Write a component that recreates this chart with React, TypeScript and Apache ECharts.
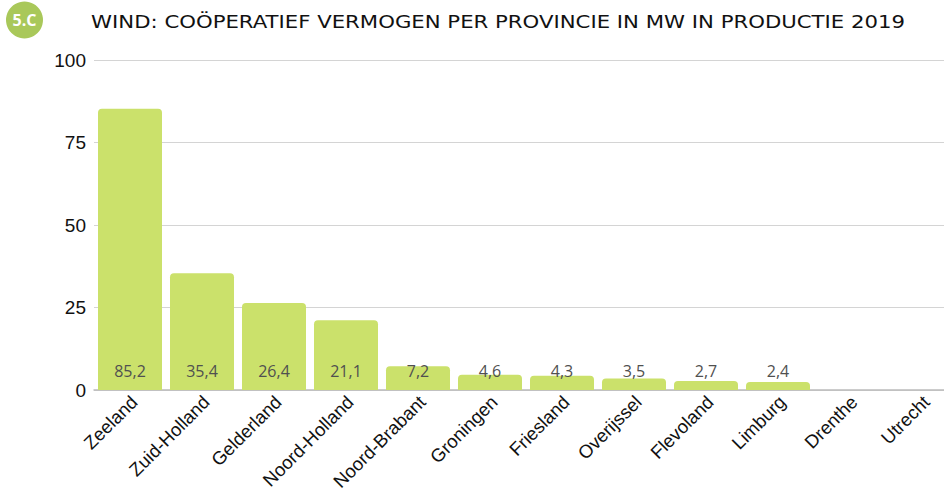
import React, { useEffect, useRef } from "react";
import * as echarts from "echarts";

const categories = ["Zeeland", "Zuid-Holland", "Gelderland", "Noord-Holland", "Noord-Brabant", "Groningen", "Friesland", "Overijssel", "Flevoland", "Limburg", "Drenthe", "Utrecht"];
const values = [85.2, 35.4, 26.4, 21.1, 7.2, 4.6, 4.3, 3.5, 2.7, 2.4, 0, 0];
const titleText = "WIND: COÖPERATIEF VERMOGEN PER PROVINCIE IN MW IN PRODUCTIE 2019";
const badgeText = "5.C";

export default function App() {
  const ref = useRef<HTMLDivElement>(null);
  useEffect(() => {
    if (!ref.current) return;
    const chart = echarts.init(ref.current, null, { renderer: "svg" });
    chart.setOption({
      animation: false,
      backgroundColor: "#ffffff",
      graphic: [
        { type: "circle", shape: { cx: 24.5, cy: 20, r: 18.5 }, style: { fill: "#a9c85a" } },
        { type: "text", x: 24.5, y: 20, style: { text: badgeText, fill: "#ffffff", font: "bold 16px 'Open Sans'", align: "center", verticalAlign: "middle" } },
        { type: "text", x: 498, y: 22, scaleX: 1.18, originX: 0, style: { text: titleText, fill: "#111111", font: "normal 18px 'DejaVu Sans'", align: "center", verticalAlign: "middle" } }
      ],
      grid: { left: 94, right: 2, top: 60, bottom: 110 },
      xAxis: {
        type: "category",
        data: categories,
        axisTick: { show: false },
        axisLine: { lineStyle: { color: "#bbbbbb", width: 1.5 } },
        axisLabel: { rotate: 45, color: "#111111", fontSize: 18.5, fontFamily: "Liberation Sans", interval: 0, margin: 13, padding: [0, -6, 0, 0] }
      },
      yAxis: {
        type: "value",
        min: 0,
        max: 100,
        interval: 25,
        axisLabel: { color: "#111111", fontSize: 19, fontFamily: "Liberation Sans", margin: 8 },
        splitLine: { lineStyle: { color: "#d4d4d4" } }
      },
      series: [{
        type: "bar",
        data: values,
        barWidth: 64,
        itemStyle: { color: "#cbe16b", borderRadius: [4, 4, 0, 0] },
        label: {
          show: true,
          position: "insideBottom",
          distance: 11,
          color: "#505050",
          fontSize: 16,
          fontFamily: "Open Sans",
          formatter: (p: any) => (p.value > 0 ? String(p.value).replace(".", ",") : "")
        }
      }]
    });
    return () => chart.dispose();
  }, []);
  return (
    <div style={{ position: "fixed", left: 0, top: 0, width: 944, height: 500, overflow: "hidden" }}>
      <div ref={ref} style={{ width: 960, height: 500 }} />
    </div>
  );
}
